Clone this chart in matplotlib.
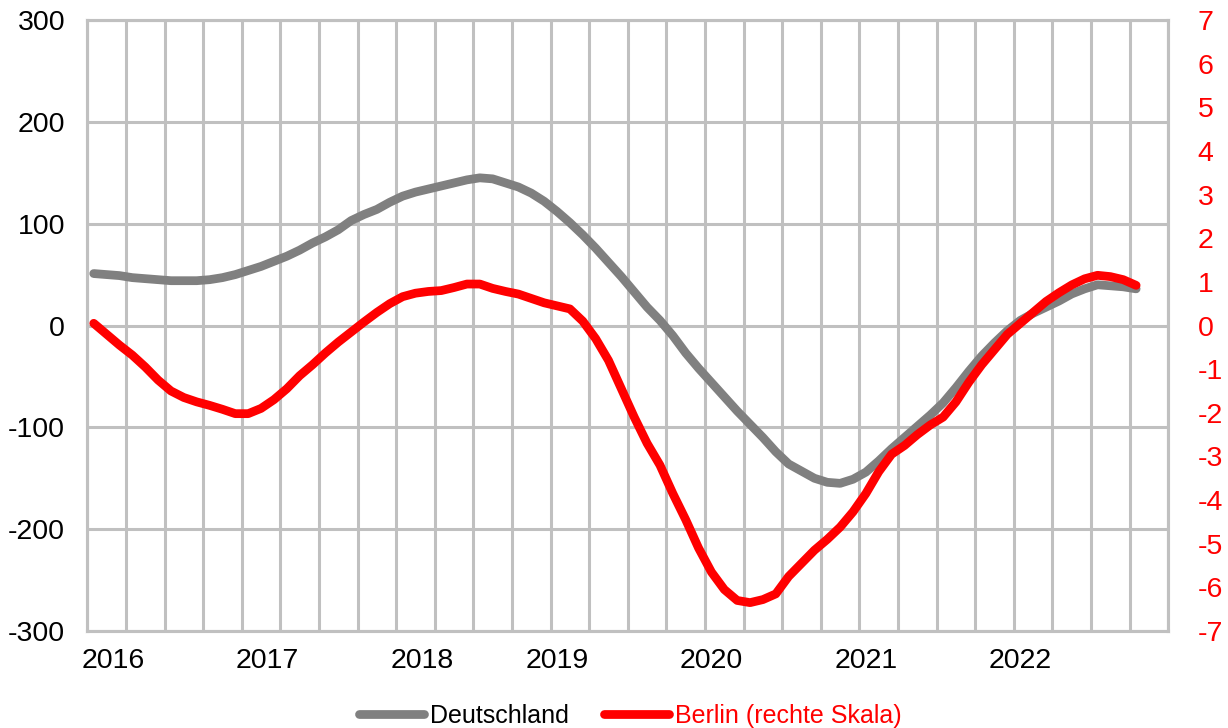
import numpy as np
import matplotlib
matplotlib.use("Agg")
import matplotlib.pyplot as plt
from matplotlib.lines import Line2D

plt.rcParams['font.family'] = ['Liberation Sans', 'DejaVu Sans']
plt.rcParams['axes.unicode_minus'] = False

# Monthly data (month index 0 = Nov 2015)
deutschland = [51, 50, 49, 47, 46, 45, 44, 44, 44, 45, 47, 50, 54, 58, 63, 68, 74, 81, 87, 94,
               103, 109, 114, 121, 127, 131, 134, 137, 140, 143, 145, 144, 140, 136, 130, 122, 112, 101, 89, 76,
               62, 48, 33, 18, 5, -10, -27, -42, -56, -70, -84, -97, -110, -124, -136, -143, -150, -154, -155, -151,
               -144, -133, -121, -110, -99, -88, -76, -61, -45, -30, -17, -5, 5, 12, 18, 24, 31, 36, 40, 39,
               38, 36]
berlin = [0.05, -0.2, -0.45, -0.68, -0.95, -1.25, -1.5, -1.65, -1.75, -1.83, -1.92, -2.02, -2.02, -1.9, -1.7, -1.45, -1.15, -0.9, -0.63, -0.38,
          -0.15, 0.08, 0.3, 0.5, 0.66, 0.74, 0.78, 0.8, 0.87, 0.95, 0.95, 0.85, 0.78, 0.72, 0.62, 0.52, 0.45, 0.38, 0.1, -0.3,
          -0.8, -1.45, -2.1, -2.7, -3.2, -3.85, -4.45, -5.1, -5.65, -6.05, -6.3, -6.35, -6.28, -6.15, -5.75, -5.45, -5.15, -4.9, -4.62, -4.27,
          -3.85, -3.35, -2.95, -2.75, -2.5, -2.28, -2.1, -1.75, -1.3, -0.9, -0.55, -0.2, 0.05, 0.3, 0.55, 0.75, 0.93, 1.07, 1.15, 1.12,
          1.05, 0.92]
year_labels = ['2016', '2017', '2018', '2019', '2020', '2021', '2022']
year_label_pos = [2.0, 14.0, 26.0, 36.5, 48.5, 60.5, 72.5]
left_ticks = [-300, -200, -100, 0, 100, 200, 300]
right_ticks = list(range(-7, 8))

x = np.arange(len(deutschland)) + 0.5

W, H = 1228, 728
fig = plt.figure(figsize=(W / 100, H / 100), dpi=100)
left, right, top, bottom = 87.3, 1168.3, 20, 631
ax = fig.add_axes([left / W, 1 - bottom / H, (right - left) / W, (bottom - top) / H])
ax2 = ax.twinx()

grid_c = '#C0C0C0'
ax.plot(x, deutschland, color='#808080', lw=6.3, solid_capstyle='round', solid_joinstyle='round', zorder=3)
ax2.plot(x, berlin, color='#FF0000', lw=6.3, solid_capstyle='round', solid_joinstyle='round', zorder=3)

ax.set_xlim(0, 84)
ax.set_ylim(-300, 300)
ax2.set_ylim(-7, 7)
ax.set_yticks(left_ticks)
ax.set_yticklabels([str(v) for v in left_ticks])
ax2.set_yticks(right_ticks)
ax2.set_yticklabels([str(v) for v in right_ticks])

ax.set_xticks(year_label_pos)
ax.set_xticklabels(year_labels)
ax.set_xticks(np.arange(0, 85, 3), minor=True)

ax.grid(which='minor', axis='x', color=grid_c, lw=2.2)
ax.grid(which='major', axis='y', color=grid_c, lw=2.2)
ax.grid(which='major', axis='x', visible=False)
ax.set_axisbelow(True)

for a in (ax, ax2):
    for s in a.spines.values():
        s.set_color(grid_c)
        s.set_linewidth(2.2)

ax.tick_params(axis='both', which='both', length=0, labelsize=20.5, colors='black')
ax.tick_params(axis='y', pad=16)
ax.tick_params(axis='x', pad=12)
ax2.tick_params(axis='y', length=0, labelsize=20.5, colors='#FF0000', pad=21)
for lbl in ax2.get_yticklabels():
    lbl.set_color('#FF0000')

handles = [Line2D([], [], color='#808080', lw=6.3, solid_capstyle='round'),
           Line2D([], [], color='#FF0000', lw=6.3, solid_capstyle='round')]
leg = fig.legend(handles, ['Deutschland', 'Berlin (rechte Skala)'], loc='center',
                 bbox_to_anchor=(630 / W, 1 - 716 / H), ncol=2, frameon=False,
                 fontsize=18, handlelength=2.6, handletextpad=0.25, columnspacing=1.4,
                 borderpad=0)
leg.get_texts()[1].set_color('#FF0000')

fig.savefig('out.png', dpi=100)
